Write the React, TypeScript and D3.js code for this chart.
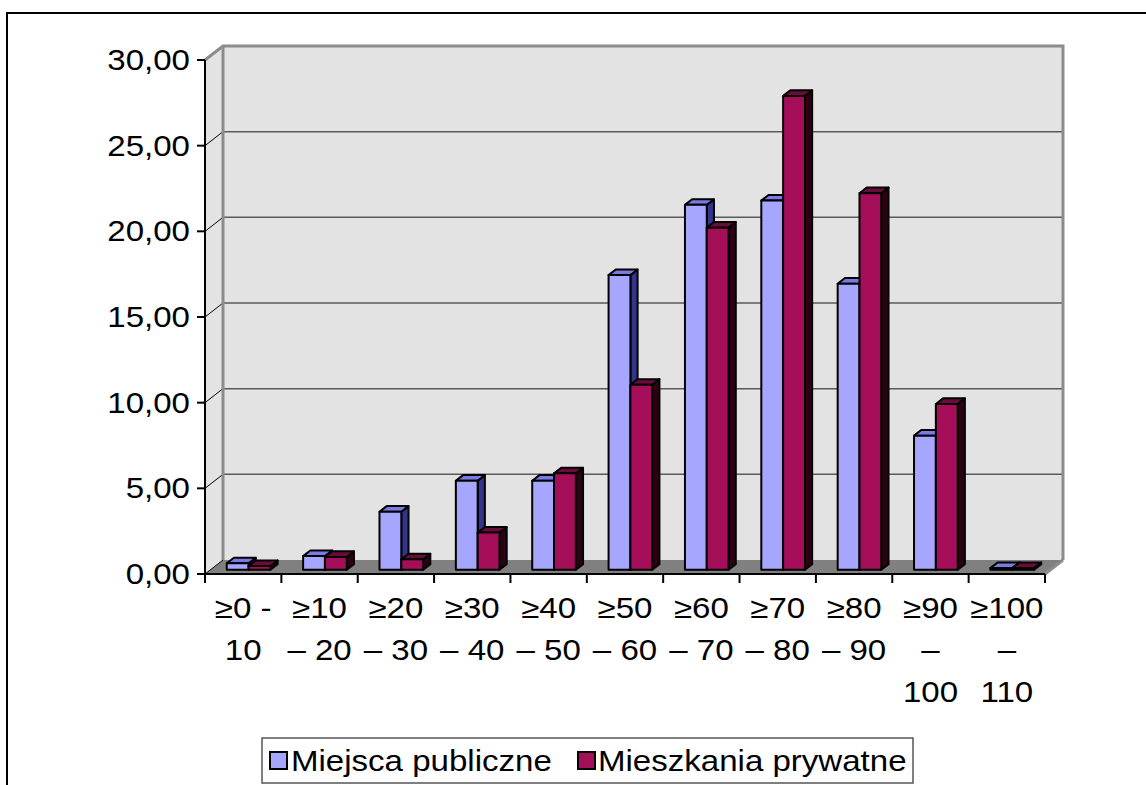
import React from "react";
import * as d3 from "d3";

const categories: string[][] = [
  ["≥0 -", "10"],
  ["≥10", "– 20"],
  ["≥20", "– 30"],
  ["≥30", "– 40"],
  ["≥40", "– 50"],
  ["≥50", "– 60"],
  ["≥60", "– 70"],
  ["≥70", "– 80"],
  ["≥80", "– 90"],
  ["≥90", "–", "100"],
  ["≥100", "–", "110"],
];
const publicPlaces = [0.38, 0.8, 3.39, 5.2, 5.2, 17.2, 21.3, 21.55, 16.7, 7.83, 0.1];
const privateHomes = [0.22, 0.75, 0.61, 2.17, 5.63, 10.8, 19.97, 27.66, 21.98, 9.68, 0.1];
const seriesNames = ["Miejsca publiczne", "Mieszkania prywatne"];
const yTicks = [0, 5, 10, 15, 20, 25, 30];

const W = 1146;
const H = 785;
const FONT = "'Liberation Sans', Arial, sans-serif";
const FS = 29;
const SX = 1.14;

// 3D depth offset of the back wall relative to the front plane
const DX = 18;
const DY = -14;

const palette = [
  { front: "#A6A6FF", top: "#7A7AE6", side: "#34348C" },
  { front: "#A50F5A", top: "#6A0C3A", side: "#2E0014" },
];

const fmt = (v: number) => v.toFixed(2).replace(".", ",");

function SText({ x, y, anchor, children }: { x: number; y: number; anchor: string; children: React.ReactNode }) {
  return (
    <text
      transform={`translate(${x},${y}) scale(${SX},1)`}
      textAnchor={anchor}
      fontFamily={FONT}
      fontSize={FS}
      fill="#000"
    >
      {children}
    </text>
  );
}

export default function App() {
  const x = d3.scaleBand<number>().domain(d3.range(categories.length)).range([205, 1045]).padding(0);
  const y = d3.scaleLinear().domain([0, 30]).range([574, 60]);
  const bw = x.bandwidth() / 3.5;
  const z0 = 0.3;
  const z1 = 0.7;

  const wallL = 205 + DX;
  const wallR = 1045 + DX;

  const bars: React.ReactNode[] = [];
  categories.forEach((_, i) => {
    [publicPlaces, privateHomes].forEach((vals, s) => {
      const v = vals[i];
      const fx = (x(i) as number) + bw * (0.75 + s) + DX * z0;
      const fyb = y(0) + DY * z0;
      const fyt = y(v) + DY * z0;
      const ddx = DX * (z1 - z0);
      const ddy = DY * (z1 - z0);
      const c = palette[s];
      const pts = (a: number[][]) => a.map((p) => p.join(",")).join(" ");
      bars.push(
        <g key={`${i}-${s}`} stroke="#000" strokeWidth={2} strokeLinejoin="round">
          <polygon
            points={pts([[fx + bw, fyt], [fx + bw + ddx, fyt + ddy], [fx + bw + ddx, fyb + ddy], [fx + bw, fyb]])}
            fill={c.side}
          />
          <polygon
            points={pts([[fx, fyt], [fx + ddx, fyt + ddy], [fx + bw + ddx, fyt + ddy], [fx + bw, fyt]])}
            fill={c.top}
          />
          <rect x={fx} y={fyt} width={bw} height={fyb - fyt} fill={c.front} />
        </g>
      );
    });
  });

  return (
    <svg width={W} height={H} style={{ position: "absolute", left: 0, top: 0, background: "#fff" }}>
      {/* outer chart frame */}
      <rect x={7} y={13} width={W + 20} height={H + 20} fill="#fff" stroke="#000" strokeWidth={2} />

      {/* back wall and side wall */}
      <rect x={wallL} y={y(30) + DY} width={wallR - wallL} height={y(0) - y(30)} fill="#E3E3E3" />
      <polygon
        points={`205,${y(30)} ${wallL},${y(30) + DY} ${wallL},${y(0) + DY} 205,${y(0)}`}
        fill="#E3E3E3"
      />
      {/* floor */}
      <polygon
        points={`205,${y(0)} 1045,${y(0)} ${wallR},${y(0) + DY} ${wallL},${y(0) + DY}`}
        fill="#808080"
      />

      {/* gridlines */}
      {yTicks.map((t) => (
        <g key={t}>
          {t > 0 && t < 30 && (
            <line x1={wallL} x2={wallR} y1={y(t) + DY} y2={y(t) + DY} stroke="#5A5A5A" strokeWidth={1.5} />
          )}
          <line x1={205} x2={wallL} y1={y(t)} y2={y(t) + DY} stroke="#000" strokeWidth={1} />
        </g>
      ))}

      {/* wall edges */}
      <g stroke="#8C8C8C" strokeWidth={3} fill="none">
        <line x1={wallL} x2={wallL} y1={y(30) + DY} y2={y(0) + DY} />
        <polyline points={`205,${y(30)} ${wallL},${y(30) + DY} ${wallR},${y(30) + DY} ${wallR},${y(0) + DY}`} />
        <line x1={1045} x2={wallR} y1={y(0)} y2={y(0) + DY} />
      </g>

      {bars}

      {/* value axis */}
      <line x1={205} x2={205} y1={y(30)} y2={y(0)} stroke="#000" strokeWidth={2} />
      {yTicks.map((t) => (
        <g key={`yt${t}`}>
          <line x1={197} x2={205} y1={y(t)} y2={y(t)} stroke="#000" strokeWidth={2} />
          <SText x={190} y={y(t) + 10} anchor="end">
            {fmt(t)}
          </SText>
        </g>
      ))}

      {/* category axis */}
      <line x1={205} x2={1045} y1={y(0)} y2={y(0)} stroke="#000" strokeWidth={2} />
      {d3.range(categories.length + 1).map((i) => {
        const px = i < categories.length ? (x(i) as number) : 1045;
        return <line key={`xt${i}`} x1={px} x2={px} y1={y(0)} y2={y(0) + 9} stroke="#000" strokeWidth={2} />;
      })}
      {categories.map((lines, i) => {
        const cx = (x(i) as number) + x.bandwidth() / 2;
        return (
          <g key={`xl${i}`}>
            {lines.map((ln, k) => (
              <SText key={k} x={cx} y={618 + k * 42} anchor="middle">
                {ln}
              </SText>
            ))}
          </g>
        );
      })}

      {/* legend */}
      <rect x={262} y={738} width={651} height={45} fill="#fff" stroke="#555" strokeWidth={1.5} />
      <rect x={270} y={752} width={17} height={17} fill={palette[0].front} stroke="#000" strokeWidth={2} />
      <SText x={291} y={771} anchor="start">
        {seriesNames[0]}
      </SText>
      <rect x={578} y={752} width={17} height={17} fill={palette[1].front} stroke="#000" strokeWidth={2} />
      <SText x={598} y={771} anchor="start">
        {seriesNames[1]}
      </SText>
    </svg>
  );
}
